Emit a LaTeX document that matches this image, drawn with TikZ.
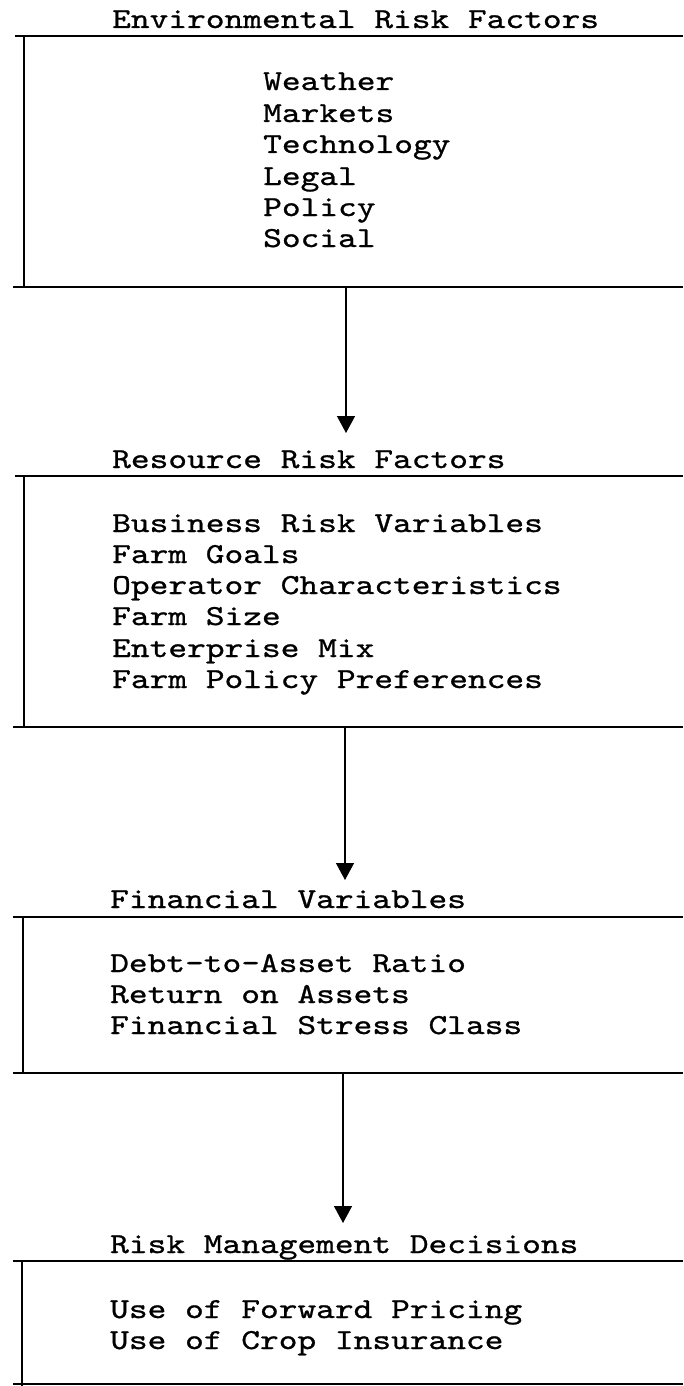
\documentclass[tikz,border=0pt]{standalone}
\usepackage{fontspec}
\newfontfamily\cour{lmmono10-regular.otf}[FakeStretch=1.23,FakeBold=0.9]
\usetikzlibrary{arrows.meta}
\begin{document}
\begin{tikzpicture}[x=1pt,y=-1pt,
  rule/.style={line width=1.7pt},
  txt/.style={anchor=base west, inner sep=0pt, font=\cour\fontsize{29}{31.3}\selectfont},
  conn/.style={line width=1.4pt,-{Triangle[width=18pt,length=17pt]}}]
\useasboundingbox (0,0) rectangle (683,1386);
% ---- Box 1
\node[txt] (t1) at (112,28) {Environmental Risk Factors};
\draw[rule] (15,36) -- (683,36);
\draw[rule] (24,36) -- (24,287);
\draw[rule] (13,287) -- (683,287);
\node[txt] (e1) at (263,90) {Weather};
\node[txt] (e2) at (263,122) {Markets};
\node[txt] (e3) at (263,153) {Technology};
\node[txt] (e4) at (263,185) {Legal};
\node[txt] (e5) at (263,216) {Policy};
\node[txt] (e6) at (263,247) {Social};
\coordinate (b1out) at (346,287);
% ---- Box 2
\node[txt] (t2) at (112,468) {Resource Risk Factors};
\coordinate (b2in) at (346,433);
\draw[rule] (15,476) -- (683,476);
\draw[rule] (24,476) -- (24,727);
\draw[rule] (13,727) -- (683,727);
\node[txt] (r1) at (112,532) {Business Risk Variables};
\node[txt] (r2) at (112,563) {Farm Goals};
\node[txt] (r3) at (112,594) {Operator Characteristics};
\node[txt] (r4) at (112,625) {Farm Size};
\node[txt] (r5) at (112,657) {Enterprise Mix};
\node[txt] (r6) at (112,688) {Farm Policy Preferences};
\coordinate (b2out) at (345,727);
% ---- Box 3
\node[txt] (t3) at (110,908) {Financial Variables};
\coordinate (b3in) at (345,880);
\draw[rule] (13,917) -- (683,917);
\draw[rule] (23,917) -- (23,1073);
\draw[rule] (13,1073) -- (683,1073);
\node[txt] (f1) at (110,972) {Debt-to-Asset Ratio};
\node[txt] (f2) at (110,1003) {Return on Assets};
\node[txt] (f3) at (110,1034) {Financial Stress Class};
\coordinate (b3out) at (343,1073);
% ---- Box 4
\node[txt] (t4) at (110,1253) {Risk Management Decisions};
\coordinate (b4in) at (343,1223);
\draw[rule] (13,1261) -- (683,1261);
\draw[rule] (22,1261) -- (22,1386);
\draw[rule] (13,1384) -- (683,1384);
\node[txt] (m1) at (110,1318) {Use of Forward Pricing};
\node[txt] (m2) at (110,1349) {Use of Crop Insurance};
% ---- connectors
\draw[conn] (b1out) -- (b2in);
\draw[conn] (b2out) -- (b3in);
\draw[conn] (b3out) -- (b4in);
\end{tikzpicture}
\end{document}
